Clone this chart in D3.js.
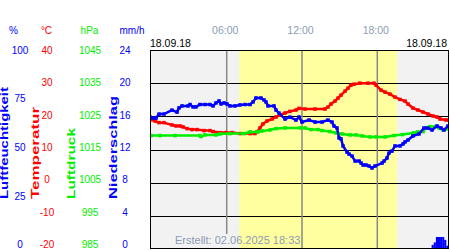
<!DOCTYPE html>
<html>
<head>
<meta charset="utf-8">
<script src="https://cdn.jsdelivr.net/npm/d3@7"></script>
<style>
body { margin: 0; background: #fff; }
svg { display: block; font-family: "Liberation Sans", Arial, sans-serif; }
</style>
</head>
<body>
<svg id="chart" width="450" height="250"></svg>
<script>
// readings as [hour of day, value]
var humidity = [[-0.11,66.3],[0.13,65.8],[0.37,65.8],[0.61,67.8],[1.0,67.8],[1.64,69.8],[2.04,68.8],[2.2,70.9],[2.44,71.9],[2.92,71.9],[3.08,72.6],[3.32,71.4],[3.55,71.4],[3.87,72.6],[4.27,72.6],[4.67,72.6],[4.91,71.9],[5.15,73.4],[5.39,74.4],[5.55,72.9],[5.79,73.4],[6.02,72.9],[6.26,71.9],[6.66,71.9],[7.06,72.4],[7.46,72.6],[7.86,72.6],[8.1,73.9],[8.33,75.9],[8.73,75.9],[8.97,74.9],[9.13,73.9],[9.29,71.9],[9.77,71.9],[9.93,69.8],[10.17,68.3],[10.65,65.3],[11.04,66.3],[11.52,64.8],[11.76,66.3],[12.0,63.8],[12.56,64.8],[13.04,63.8],[13.6,63.8],[14.07,64.8],[14.39,63.8],[14.55,61.8],[14.79,60.8],[14.95,55.8],[15.11,55.3],[15.27,51.8],[15.59,48.7],[15.75,47.7],[15.99,46.7],[16.23,44.2],[16.55,44.2],[16.71,43.2],[16.87,42.2],[17.1,42.2],[17.34,41.7],[17.58,40.7],[17.82,41.7],[18.38,43.2],[18.54,44.2],[18.77,45.7],[18.93,48.2],[19.17,49.2],[19.41,51.8],[19.81,51.8],[20.05,52.8],[20.21,53.8],[20.45,54.8],[20.84,56.8],[21.32,57.8],[21.72,60.8],[22.04,60.8],[22.36,59.8],[22.76,61.8],[23.08,60.8],[23.31,59.8],[23.63,61.8]]
var temperature = [[-0.03,19.0],[0.29,18.6],[0.61,18.1],[1.0,18.1],[1.64,17.4],[1.96,17.1],[2.28,17.1],[2.52,16.8],[2.84,16.3],[3.24,16.0],[3.63,16.0],[4.19,15.7],[4.67,15.7],[4.91,15.4],[5.47,15.1],[5.94,15.1],[6.42,15.1],[7.06,14.8],[7.86,14.8],[8.25,14.8],[8.41,15.3],[8.65,16.5],[8.89,17.7],[9.21,18.6],[9.61,19.2],[9.93,19.8],[10.25,20.4],[10.65,21.0],[11.04,21.5],[11.52,21.9],[11.76,22.4],[12.24,22.2],[13.04,22.2],[13.83,22.2],[14.07,22.8],[14.31,23.7],[14.63,24.6],[14.87,25.5],[15.11,26.4],[15.43,27.6],[15.67,28.5],[15.9,29.4],[16.14,29.7],[16.62,30.0],[17.26,30.0],[17.74,30.0],[17.9,29.4],[18.3,27.9],[18.62,27.3],[19.01,26.7],[19.41,25.8],[19.81,25.1],[20.21,24.6],[20.45,23.7],[20.84,22.5],[21.24,21.9],[21.64,21.3],[22.04,20.7],[22.44,20.1],[22.76,19.8],[23.0,19.2],[23.47,18.9],[23.71,18.9]]
var pressure = [[-0.03,1019.2],[0.69,1019.2],[1.88,1019.2],[3.87,1019.2],[3.95,1018.9],[4.27,1019.4],[5.15,1019.4],[5.47,1019.7],[6.26,1019.8],[7.38,1019.8],[7.86,1020.3],[8.49,1020.3],[8.81,1020.6],[9.45,1020.9],[9.93,1021.3],[10.65,1021.5],[11.84,1021.5],[12.24,1021.5],[12.72,1021.0],[13.28,1021.0],[13.6,1020.7],[14.23,1020.4],[14.71,1020.0],[15.19,1019.7],[15.83,1019.4],[16.3,1019.4],[16.79,1019.1],[17.42,1018.8],[17.9,1018.8],[18.62,1018.8],[19.33,1019.2],[20.0,1019.5],[20.88,1020.0],[21.2,1020.3],[21.64,1020.4],[21.88,1021.5],[22.2,1021.9],[22.68,1021.9],[22.92,1021.5],[23.24,1020.9],[23.55,1021.2]]
var rainHours = [22.17, 22.33, 22.5, 22.67, 22.83, 23.0, 23.17, 23.33, 23.5]
var rainValues = [0.12, 0.5, 0.8, 1.45, 1.45, 1.45, 1.45, 1.1, 0.4]
var daylight = [7.0, 19.57]
var timeTicks = [6, 12, 18]
var humTicks = [0, 25, 50, 75, 100]
var tempTicks = [-20, -10, 0, 10, 20, 30, 40]
var presTicks = [985, 995, 1005, 1015, 1025, 1035, 1045]
var rainTicks = [0, 4, 8, 12, 16, 20, 24]
var dateText = '18.09.18'
var createdText = 'Erstellt: 02.06.2025 18:33'

var blue = '#0000ff', red = '#ff0000', green = '#00ee00', grey = '#8c9cb4'
var pLeft = 150, pRight = 449, pTop = 50, pBottom = 249

var svg = d3.select('#chart')

var x = d3.scaleLinear().domain([0, 24]).range([151.4, 452.6])
var yHum = d3.scaleLinear().domain([0, 100]).range([pBottom, pTop])
var yTemp = d3.scaleLinear().domain([-20, 40]).range([pBottom, pTop])
var yPres = d3.scaleLinear().domain([985, 1045]).range([pBottom, pTop])
var yRain = d3.scaleLinear().domain([0, 24]).range([pBottom, pTop])

// background: night grey, day yellow
svg.append('rect').attr('x', pLeft).attr('y', pTop).attr('width', pRight - pLeft).attr('height', pBottom - pTop).attr('fill', '#f2f2f2')
svg.append('rect').attr('x', x(daylight[0])).attr('y', pTop)
    .attr('width', x(daylight[1]) - x(daylight[0])).attr('height', pBottom - pTop).attr('fill', '#ffffa0')

// horizontal grid from the temperature ticks
svg.append('g').selectAll('line').data(tempTicks.slice(1, -1)).join('line')
    .attr('x1', pLeft).attr('x2', pRight)
    .attr('y1', d => Math.round(yTemp(d)) + 0.5).attr('y2', d => Math.round(yTemp(d)) + 0.5)
    .attr('stroke', '#000')

var vlines = svg.append('g').selectAll('line').data(timeTicks).join('line')
    .attr('x1', d => x(d)).attr('x2', d => x(d))
    .attr('y1', pTop).attr('y2', pBottom)
    .attr('stroke', '#888').attr('stroke-width', 1.5)

svg.append('clipPath').attr('id', 'plot').append('rect')
    .attr('x', pLeft).attr('y', pTop).attr('width', pRight - pLeft).attr('height', pBottom - pTop)
var data = svg.append('g').attr('clip-path', 'url(#plot)')

// rain bars
data.selectAll('rect').data(rainHours).join('rect')
    .attr('x', d => x(d)).attr('width', x(1 / 6) - x(0))
    .attr('y', (d, i) => yRain(rainValues[i]))
    .attr('height', (d, i) => pBottom - yRain(rainValues[i]))
    .attr('fill', blue)

// dotted look: thin trace plus square markers at each reading
function series(values, yScale, color) {
    var line = d3.line().x(d => x(d[0])).y(d => yScale(d[1]))
    var g = data.append('g')
    g.append('path').datum(values).attr('d', line)
        .attr('fill', 'none').attr('stroke', color).attr('stroke-width', 2.5)
    g.selectAll('rect').data(values).join('rect')
        .attr('x', d => x(d[0]) - 1.75).attr('y', d => yScale(d[1]) - 1.75)
        .attr('width', 3.5).attr('height', 3.5).attr('fill', color)
}
series(temperature, yTemp, red)
series(pressure, yPres, green)
series(humidity, yHum, blue)

svg.append('rect').attr('x', pLeft + 0.5).attr('y', pTop + 0.5).attr('width', pRight - pLeft - 1).attr('height', pBottom - pTop - 1)
    .attr('fill', 'none').attr('stroke', '#000')

// time labels on top
var tAxis = svg.append('g').attr('transform', 'translate(-2,34)')
    .call(d3.axisTop(x).tickValues(timeTicks).tickSize(0).tickPadding(0)
        .tickFormat(d => d3.format('02d')(d) + ':00'))
tAxis.select('.domain').remove()
tAxis.attr('font-family', null).attr('font-size', 10.5)
tAxis.selectAll('text').attr('fill', grey)

svg.append('text').attr('x', pLeft).attr('y', 47).attr('font-size', 10.5).text(dateText)
svg.append('text').attr('x', pRight - 2).attr('y', 47).attr('font-size', 10.5).attr('text-anchor', 'end').text(dateText)

// value columns on the left
function column(ticks, domain, cx, color) {
    var s = d3.scaleLinear().domain(domain).range([244.5, 50])
    var g = svg.append('g').attr('transform', 'translate(' + cx + ',0)')
        .call(d3.axisLeft(s).tickValues(ticks).tickSize(0).tickPadding(0).tickFormat(d => String(d)))
    g.select('.domain').remove()
    g.attr('font-family', null).attr('font-size', 10).attr('text-anchor', 'middle')
    g.selectAll('text').attr('fill', color)
}
column(humTicks, [0, 100], 20, blue)
column(tempTicks, [-20, 40], 47, red)
column(presTicks, [985, 1045], 90, green)
column(rainTicks, [0, 24], 125, blue)

var units = [['%', 13.5, blue], ['°C', 46.5, red], ['hPa', 89.5, green], ['mm/h', 132, blue]]
svg.append('g').selectAll('text').data(units).join('text')
    .attr('x', d => d[1]).attr('y', 34).attr('text-anchor', 'middle')
    .attr('font-size', 10).attr('fill', d => d[2]).text(d => d[0])

var names = [['Luftfeuchtigkeit', 8, 112, blue], ['Temperatur', 38.5, 92, red], ['Luftdruck', 75, 71, green], ['Niederschlag', 117, 103, blue]]
svg.append('g').selectAll('text').data(names).join('text')
    .attr('transform', d => 'translate(' + d[1] + ',199) rotate(-90)')
    .attr('font-size', 10).attr('font-weight', 'bold')
    .attr('textLength', d => d[2]).attr('lengthAdjust', 'spacingAndGlyphs')
    .attr('fill', d => d[3]).text(d => d[0])

var created = svg.append('text').attr('x', 175).attr('y', 244).attr('font-size', 11)
    .attr('fill', grey).text(createdText)
var box = created.node().getBBox()
vlines.filter(d => x(d) > box.x && x(d) < box.x + box.width).attr('y2', box.y)
</script>
</body>
</html>
